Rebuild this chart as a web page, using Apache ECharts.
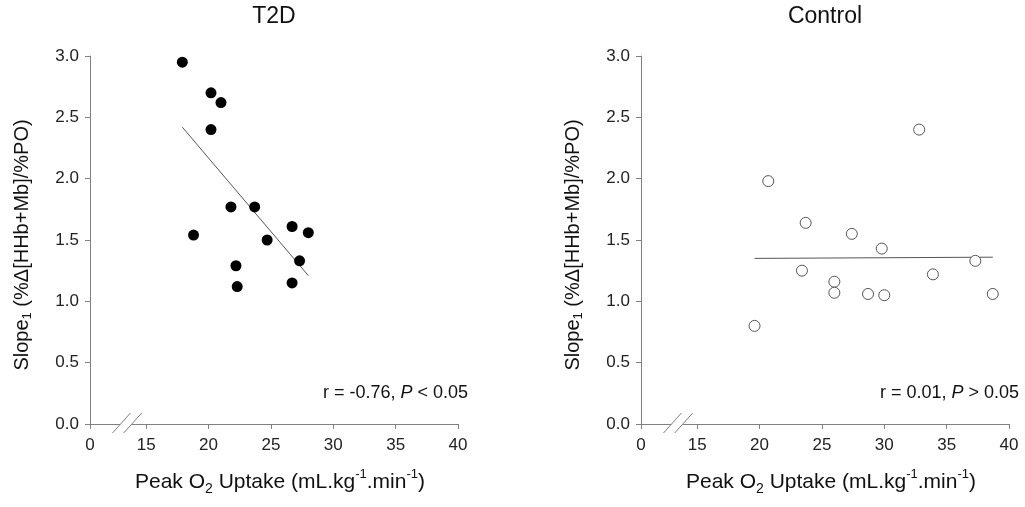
<!DOCTYPE html>
<html>
<head>
<meta charset="utf-8">
<title>Slope vs Peak O2 Uptake</title>
<script src="https://cdn.jsdelivr.net/npm/echarts@6/dist/echarts.min.js"></script>
<style>
  html, body { margin: 0; padding: 0; background: #fff; }
  #chart { width: 1025px; height: 507px; }
</style>
</head>
<body>
<div id="chart"></div>
<script>
// values
var t2dX = [17.9, 20.2, 21.0, 20.2, 21.8, 23.7, 18.8, 26.7, 28.0, 24.7, 27.3, 22.2, 22.3, 26.7];
var t2dY = [2.95, 2.70, 2.62, 2.40, 1.77, 1.77, 1.54, 1.61, 1.56, 1.50, 1.33, 1.29, 1.12, 1.15];
var t2dFitX = [17.9, 28.0];
var t2dFitY = [2.42, 1.21];

var ctrlX = [32.8, 20.7, 23.7, 27.4, 29.8, 37.3, 23.4, 33.9, 26.0, 26.0, 28.7, 30.0, 38.7, 19.6];
var ctrlY = [2.40, 1.98, 1.64, 1.55, 1.43, 1.33, 1.25, 1.22, 1.16, 1.07, 1.06, 1.05, 1.06, 0.80];
var ctrlFitX = [19.6, 38.7];
var ctrlFitY = [1.35, 1.36];

// the x axis is broken: the "0" tick sits where 10.5 would be
var xMin = 10.5;
var xMax = 40;
var xTicks = [10.5, 15, 20, 25, 30, 35, 40];
var breakAt = [12.3, 13.2];

var titles = ["T2D", "Control"];
var stats = ["r = -0.76, {i|P} < 0.05", "r = 0.01, {i|P} > 0.05"];

function pairs(xs, ys) {
  var out = [];
  for (var i = 0; i < xs.length; i++) {
    out.push([xs[i], ys[i]]);
  }
  return out;
}

var font = "Liberation Sans, Arial, sans-serif";
var axisColor = "#808080";

function makeX(idx) {
  return {
    type: "value",
    gridIndex: idx,
    min: xMin,
    max: xMax,
    name: "Peak O{sub|2} Uptake (mL.kg{sup|-1}.min{sup|-1})",
    nameLocation: "middle",
    nameGap: 44,
    nameTextStyle: {
      fontFamily: font, fontSize: 21, color: "#111", lineHeight: 28,
      padding: [0, 0, 0, 12],
      rich: {
        sub: { fontFamily: font, fontSize: 14, color: "#111", verticalAlign: "bottom", lineHeight: 28 },
        sup: { fontFamily: font, fontSize: 13, color: "#111", verticalAlign: "top", lineHeight: 26 }
      }
    },
    axisLine: { show: true, onZero: false, lineStyle: { color: axisColor, width: 1 } },
    axisTick: { show: true, length: 5, customValues: xTicks, lineStyle: { color: axisColor } },
    axisLabel: {
      customValues: xTicks,
      fontFamily: font, fontSize: 17, color: "#222", margin: 13,
      formatter: function (v) { return v === xMin ? "0" : String(v); }
    },
    splitLine: { show: false }
  };
}

function makeY(idx) {
  return {
    type: "value",
    gridIndex: idx,
    min: 0,
    max: 3,
    interval: 0.5,
    name: "Slope{sub|1} (%Δ[HHb+Mb]/%PO)",
    nameLocation: "middle",
    nameGap: 56,
    nameTextStyle: {
      fontFamily: font, fontSize: 20, color: "#111", lineHeight: 24,
      padding: [0, 10, 0, 0],
      rich: {
        sub: { fontFamily: font, fontSize: 13, color: "#111", verticalAlign: "bottom", lineHeight: 24 }
      }
    },
    axisLine: { show: true, lineStyle: { color: axisColor, width: 1 } },
    axisTick: { show: true, length: 5, lineStyle: { color: axisColor } },
    axisLabel: {
      fontFamily: font, fontSize: 17, color: "#222", margin: 11,
      formatter: function (v) { return v.toFixed(1); }
    },
    splitLine: { show: false }
  };
}

function breakSeries(idx) {
  return {
    type: "custom",
    xAxisIndex: idx,
    yAxisIndex: idx,
    clip: false,
    silent: true,
    data: [[breakAt[0], breakAt[1]]],
    renderItem: function (params, api) {
      var a = api.coord([api.value(0), 0]);
      var b = api.coord([api.value(1), 0]);
      var w = 18, up = 11, down = 9;
      var style = { stroke: axisColor, lineWidth: 1 };
      return {
        type: "group",
        children: [
          {
            type: "polygon",
            shape: { points: [[a[0], a[1] + down], [a[0] + w, a[1] - up], [b[0] + w, b[1] - up], [b[0], b[1] + down]] },
            style: { fill: "#fff" }
          },
          { type: "line", shape: { x1: a[0], y1: a[1] + down, x2: a[0] + w, y2: a[1] - up }, style: style },
          { type: "line", shape: { x1: b[0], y1: b[1] + down, x2: b[0] + w, y2: b[1] - up }, style: style }
        ]
      };
    }
  };
}

function statText(x, text) {
  return {
    type: "text", x: x, y: 393,
    style: {
      text: text, font: "18px " + font, fill: "#111", textAlign: "right", textVerticalAlign: "middle",
      rich: { i: { fontStyle: "italic", fontFamily: font, fontSize: 18, fill: "#111" } }
    }
  };
}

function titleText(x, text) {
  return {
    type: "text", x: x, y: 17,
    style: { text: text, font: "23px " + font, fill: "#111", textAlign: "center", textVerticalAlign: "middle" }
  };
}

var chart = echarts.init(document.getElementById("chart"), null, { renderer: "canvas" });

var option = {
  backgroundColor: "#fff",
  animation: false,
  grid: [
    { left: 90, top: 56, width: 368, height: 368 },
    { left: 641, top: 56, width: 368, height: 368 }
  ],
  xAxis: [makeX(0), makeX(1)],
  yAxis: [makeY(0), makeY(1)],
  graphic: [
    titleText(274, titles[0]),
    titleText(825, titles[1]),
    statText(468, stats[0]),
    statText(1019, stats[1])
  ],
  series: [
    {
      name: "T2D fit",
      type: "line",
      xAxisIndex: 0,
      yAxisIndex: 0,
      data: pairs(t2dFitX, t2dFitY),
      symbol: "none",
      lineStyle: { color: "#555", width: 1 },
      z: 1
    },
    {
      name: "T2D",
      type: "scatter",
      xAxisIndex: 0,
      yAxisIndex: 0,
      data: pairs(t2dX, t2dY),
      symbolSize: 11,
      itemStyle: { color: "#000", opacity: 1 },
      z: 3
    },
    {
      name: "Control fit",
      type: "line",
      xAxisIndex: 1,
      yAxisIndex: 1,
      data: pairs(ctrlFitX, ctrlFitY),
      symbol: "none",
      lineStyle: { color: "#555", width: 1 },
      z: 1
    },
    {
      name: "Control",
      type: "scatter",
      xAxisIndex: 1,
      yAxisIndex: 1,
      data: pairs(ctrlX, ctrlY),
      symbolSize: 11,
      itemStyle: { color: "#fff", borderColor: "#555", borderWidth: 1, opacity: 1 },
      z: 3
    },
    breakSeries(0),
    breakSeries(1)
  ]
};

chart.setOption(option);
</script>
</body>
</html>
